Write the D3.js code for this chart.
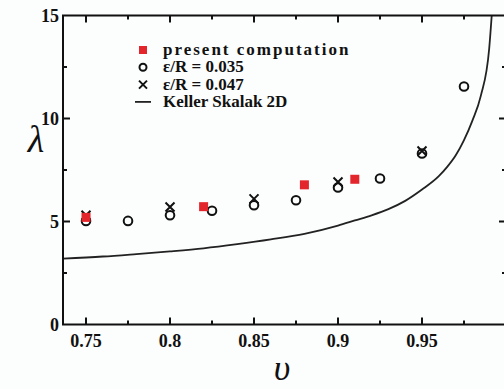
<!DOCTYPE html>
<html>
<head>
<meta charset="utf-8">
<script src="https://cdn.jsdelivr.net/npm/d3@7"></script>
<style>
  body { margin: 0; background: #fcfdfd; }
  svg { display: block; }
</style>
</head>
<body>
<svg></svg>
<script>
// data
const presentV = [0.75, 0.82, 0.88, 0.91];
const presentL = [5.2, 5.72, 6.78, 7.05];

const eps035V = [0.75, 0.775, 0.8, 0.825, 0.85, 0.875, 0.9, 0.925, 0.95, 0.975];
const eps035L = [5.03, 5.03, 5.3, 5.52, 5.79, 6.03, 6.65, 7.09, 8.3, 11.55];

const eps047V = [0.75, 0.8, 0.85, 0.9, 0.95];
const eps047L = [5.3, 5.7, 6.1, 6.92, 8.42];

const kellerV = [0.7363, 0.76, 0.78, 0.80, 0.82, 0.84, 0.86, 0.88, 0.90, 0.91, 0.92, 0.93,
                 0.94, 0.95, 0.96, 0.965, 0.97, 0.975, 0.98, 0.985, 0.99, 0.9915];
const kellerL = [3.2, 3.3, 3.42, 3.55, 3.7, 3.9, 4.13, 4.4, 4.8, 5.05, 5.3, 5.6,
                 6.0, 6.55, 7.2, 7.65, 8.2, 8.95, 9.9, 11.1, 13.4, 15];

const xTicks = [0.75, 0.8, 0.85, 0.9, 0.95];
const xMinor = [0.775, 0.825, 0.875, 0.925, 0.975];
const yTicks = [0, 5, 10, 15];
const yMinor = [2.5, 7.5, 12.5];

const legendLabels = ["present computation", "\u03b5/R = 0.035", "\u03b5/R = 0.047", "Keller Skalak 2D"];

const serif = "'Liberation Serif', 'Times New Roman', 'DejaVu Serif', serif";

const width = 504, height = 389;
const svg = d3.select("svg").attr("width", width).attr("height", height);

const x = d3.scaleLinear().domain([0.7363, 1.0]).range([63, 506]);
const y = d3.scaleLinear().domain([0, 15]).range([324.5, 15.5]);

const pLeft = x.range()[0], pRight = x.range()[1];
const pTop = y.range()[1], pBottom = y.range()[0];

// curve
const kellerPts = kellerV.map((v, i) => [v, kellerL[i]]);
svg.append("path")
    .datum(kellerPts)
    .attr("fill", "none")
    .attr("stroke", "#222")
    .attr("stroke-width", 1.8)
    .attr("d", d3.line().x(d => x(d[0])).y(d => y(d[1])).curve(d3.curveMonotoneX));

// ticks inside frame
const g = svg.append("g");
function tickLines(vals, len, isX) {
    vals.forEach(v => {
        if (isX) {
            g.append("line").attr("x1", x(v)).attr("x2", x(v)).attr("y1", pBottom).attr("y2", pBottom - len);
            g.append("line").attr("x1", x(v)).attr("x2", x(v)).attr("y1", pTop).attr("y2", pTop + len);
        } else {
            g.append("line").attr("y1", y(v)).attr("y2", y(v)).attr("x1", pLeft).attr("x2", pLeft + len);
            g.append("line").attr("y1", y(v)).attr("y2", y(v)).attr("x1", pRight).attr("x2", pRight - len);
        }
    });
}
tickLines(xTicks, 7, true);
tickLines(xMinor, 4, true);
tickLines(yTicks.slice(1, 3), 7, false);
tickLines(yMinor, 4, false);
g.selectAll("line").attr("stroke", "#111").attr("stroke-width", 2);

// frame
svg.append("rect")
    .attr("x", pLeft).attr("y", pTop)
    .attr("width", pRight - pLeft).attr("height", pBottom - pTop)
    .attr("fill", "none").attr("stroke", "#111").attr("stroke-width", 2);

// tick labels
svg.selectAll(".xl").data(xTicks).enter().append("text")
    .attr("x", d => x(d)).attr("y", pBottom + 22)
    .attr("text-anchor", "middle")
    .attr("font-family", serif)
    .attr("font-size", 18).attr("font-weight", "bold").attr("fill", "#111")
    .text(d => d);

svg.selectAll(".yl").data(yTicks).enter().append("text")
    .attr("x", pLeft - 4).attr("y", d => y(d) + 6)
    .attr("text-anchor", "end")
    .attr("font-family", serif)
    .attr("font-size", 18).attr("font-weight", "bold").attr("fill", "#111")
    .text(d => d);

// axis titles
svg.append("text")
    .attr("x", 36).attr("y", 152)
    .attr("text-anchor", "middle")
    .attr("font-family", serif)
    .attr("font-size", 38).attr("font-style", "italic").attr("fill", "#111")
    .text("\u03bb");

svg.append("text")
    .attr("x", 282).attr("y", 380)
    .attr("text-anchor", "middle")
    .attr("font-family", serif)
    .attr("font-size", 36).attr("font-style", "italic").attr("fill", "#111")
    .text("\u03c5");

// markers
function cross(sel, cx, cy, s) {
    sel.append("path")
        .attr("d", `M${cx - s},${cy - s}L${cx + s},${cy + s}M${cx - s},${cy + s}L${cx + s},${cy - s}`)
        .attr("stroke", "#111").attr("stroke-width", 2).attr("fill", "none");
}

const marks = svg.append("g");
eps035V.forEach((v, i) => {
    marks.append("circle")
        .attr("cx", x(v)).attr("cy", y(eps035L[i])).attr("r", 4.3)
        .attr("fill", "none").attr("stroke", "#111").attr("stroke-width", 2);
});
eps047V.forEach((v, i) => cross(marks, x(v), y(eps047L[i]), 4.5));
presentV.forEach((v, i) => {
    marks.append("rect")
        .attr("x", x(v) - 4.5).attr("y", y(presentL[i]) - 4.5)
        .attr("width", 9).attr("height", 9)
        .attr("fill", "#e3262b");
});

// legend
const lx = 143, ly = 50, dy = 17.3;
const leg = svg.append("g");
leg.append("rect").attr("x", lx - 4).attr("y", ly - 4).attr("width", 8).attr("height", 8).attr("fill", "#e3262b");
leg.append("circle").attr("cx", lx).attr("cy", ly + dy).attr("r", 3.5)
    .attr("fill", "none").attr("stroke", "#111").attr("stroke-width", 2);
cross(leg, lx, ly + 2 * dy, 4);
leg.append("line").attr("x1", lx - 8).attr("x2", lx + 8)
    .attr("y1", ly + 3 * dy).attr("y2", ly + 3 * dy)
    .attr("stroke", "#222").attr("stroke-width", 1.8);

leg.selectAll("text").data(legendLabels).enter().append("text")
    .attr("x", lx + 20).attr("y", (d, i) => ly + i * dy + 5)
    .attr("font-family", serif)
    .attr("font-size", 17).attr("font-weight", "bold").attr("fill", "#111")
    .attr("letter-spacing", (d, i) => i === 0 ? 2 : 0)
    .text(d => d);
</script>
</body>
</html>
